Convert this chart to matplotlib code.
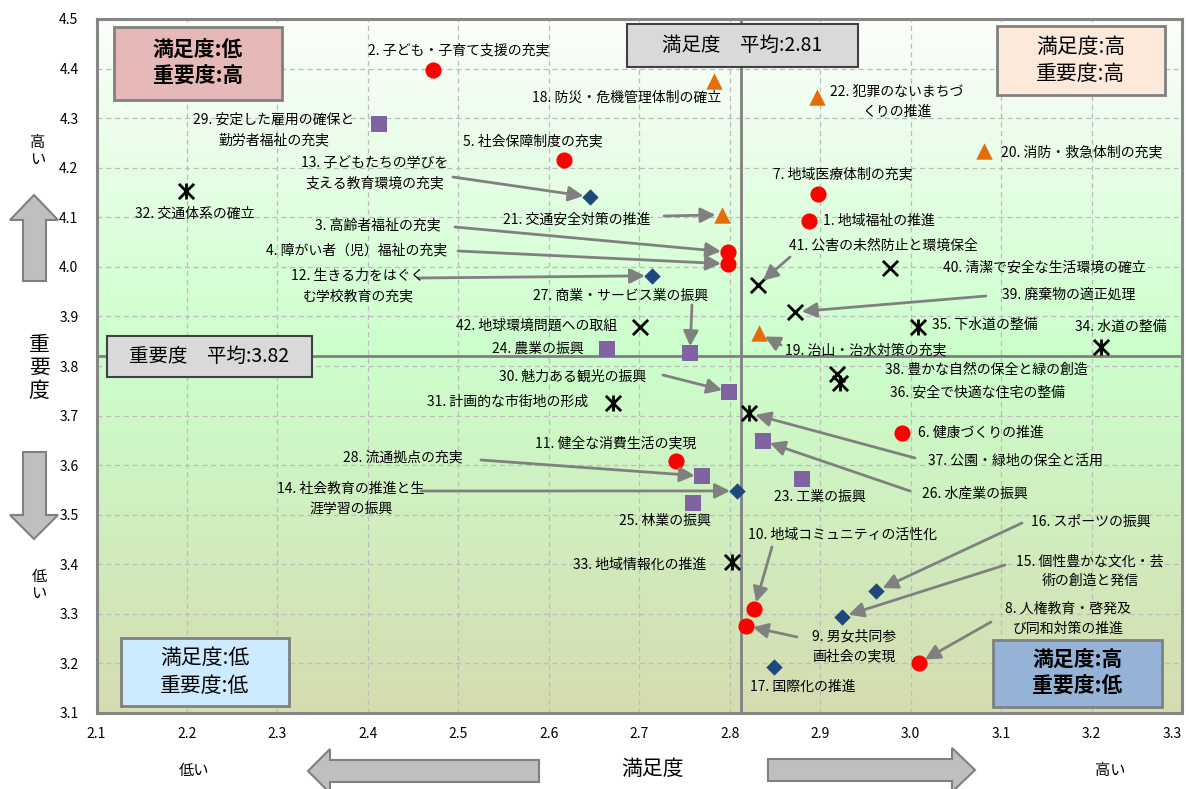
import numpy as np
import matplotlib
matplotlib.use('Agg')
import matplotlib.pyplot as plt
from matplotlib.patches import Rectangle, Polygon
from matplotlib.colors import LinearSegmentedColormap

plt.rcParams['font.family'] = ['Noto Sans CJK JP', 'DejaVu Sans']

# --- data: 満足度 (x) / 重要度 (y) ---
welfare_no = [1, 2, 3, 4, 5, 6, 7, 8, 9, 10, 11]
welfare_sat = [2.888, 2.472, 2.798, 2.798, 2.617, 2.990, 2.898, 3.009, 2.818, 2.827, 2.741]
welfare_imp = [4.093, 4.397, 4.030, 4.006, 4.216, 3.665, 4.147, 3.201, 3.276, 3.310, 3.608]

edu_no = [12, 13, 14, 15, 16, 17]
edu_sat = [2.714, 2.646, 2.808, 2.924, 2.962, 2.849]
edu_imp = [3.982, 4.141, 3.548, 3.294, 3.346, 3.193]

safety_no = [18, 19, 20, 21, 22]
safety_sat = [2.783, 2.832, 3.081, 2.792, 2.896]
safety_imp = [4.375, 3.866, 4.233, 4.105, 4.342]

industry_no = [23, 24, 25, 26, 27, 28, 29, 30]
industry_sat = [2.880, 2.664, 2.759, 2.837, 2.756, 2.769, 2.412, 2.799]
industry_imp = [3.572, 3.834, 3.524, 3.649, 3.826, 3.578, 4.288, 3.748]

town_no = [31, 32, 33, 34, 35, 36, 37]
town_sat = [2.671, 2.199, 2.802, 3.211, 3.008, 2.922, 2.821]
town_imp = [3.725, 4.153, 3.405, 3.838, 3.879, 3.766, 3.705]

env_no = [38, 39, 40, 41, 42]
env_sat = [2.919, 2.872, 2.977, 2.831, 2.701]
env_imp = [3.784, 3.909, 3.998, 3.963, 3.879]

mean_sat = 2.81
mean_imp = 3.82

names = {
    1: '1. 地域福祉の推進', 2: '2. 子ども・子育て支援の充実', 3: '3. 高齢者福祉の充実',
    4: '4. 障がい者（児）福祉の充実', 5: '5. 社会保障制度の充実', 6: '6. 健康づくりの推進',
    7: '7. 地域医療体制の充実', 8: '8. 人権教育・啓発及\nび同和対策の推進',
    9: '9. 男女共同参\n画社会の実現', 10: '10. 地域コミュニティの活性化',
    11: '11. 健全な消費生活の実現', 12: '12. 生きる力をはぐく\nむ学校教育の充実',
    13: '13. 子どもたちの学びを\n支える教育環境の充実', 14: '14. 社会教育の推進と生\n涯学習の振興',
    15: '15. 個性豊かな文化・芸\n術の創造と発信', 16: '16. スポーツの振興', 17: '17. 国際化の推進',
    18: '18. 防災・危機管理体制の確立', 19: '19. 治山・治水対策の充実',
    20: '20. 消防・救急体制の充実', 21: '21. 交通安全対策の推進',
    22: '22. 犯罪のないまちづ\nくりの推進', 23: '23. 工業の振興', 24: '24. 農業の振興',
    25: '25. 林業の振興', 26: '26. 水産業の振興', 27: '27. 商業・サービス業の振興',
    28: '28. 流通拠点の充実', 29: '29. 安定した雇用の確保と\n勤労者福祉の充実',
    30: '30. 魅力ある観光の振興', 31: '31. 計画的な市街地の形成', 32: '32. 交通体系の確立',
    33: '33. 地域情報化の推進', 34: '34. 水道の整備', 35: '35. 下水道の整備',
    36: '36. 安全で快適な住宅の整備', 37: '37. 公園・緑地の保全と活用',
    38: '38. 豊かな自然の保全と緑の創造', 39: '39. 廃棄物の適正処理',
    40: '40. 清潔で安全な生活環境の確立', 41: '41. 公害の未然防止と環境保全',
    42: '42. 地球環境問題への取組',
}

# label layout in image pixels: (x, y, ha, arrow start or None)
label_pos = {
    1: (823, 221, 'left', None), 2: (459, 50, 'center', None),
    3: (378, 225, 'center', (455, 227)), 4: (357, 250, 'center', (458, 251)),
    5: (533, 141, 'center', None), 6: (918, 433, 'left', None),
    7: (843, 174, 'center', None), 8: (1068, 619, 'center', (991, 622)),
    9: (854, 646, 'center', (797, 637)), 10: (843, 535, 'center', (772, 547)),
    11: (616, 443, 'center', None), 12: (358, 286, 'center', (418, 278)),
    13: (375, 173, 'center', (453, 177)), 14: (351, 499, 'center', (421, 491)),
    15: (1090, 571, 'center', (1005, 565)), 16: (1091, 522, 'center', (1022, 523)),
    17: (803, 687, 'center', None), 18: (627, 98, 'center', None),
    19: (866, 350, 'center', (781, 345)), 20: (1082, 152, 'center', None),
    21: (577, 220, 'center', (664, 216)), 22: (897, 102, 'center', None),
    23: (820, 497, 'center', None), 24: (538, 349, 'center', None),
    25: (665, 521, 'center', None), 26: (975, 494, 'center', (910, 491)),
    27: (621, 296, 'center', (692, 305)), 28: (403, 457, 'center', (481, 460)),
    29: (274, 130, 'center', None), 30: (573, 377, 'center', (663, 375)),
    31: (508, 402, 'center', None), 32: (195, 214, 'center', None),
    33: (640, 565, 'center', None), 34: (1121, 327, 'center', None),
    35: (932, 325, 'left', None), 36: (890, 393, 'left', None),
    37: (1015, 461, 'center', (915, 458)), 38: (885, 370, 'left', None),
    39: (1069, 295, 'center', (986, 296)), 40: (943, 268, 'left', None),
    41: (883, 246, 'center', (790, 257)), 42: (537, 326, 'center', None),
}

W, H = 1189, 789
fig = plt.figure(figsize=(W / 100, H / 100), dpi=100)
ax = fig.add_axes([96.5 / W, (H - 713) / H, (1182 - 96.5) / W, (713 - 19) / H])


def fp(x, y):
    # image pixel (from top-left) -> figure pixels
    return (x, H - y)


def ff(x, y):
    return (x / W, 1 - y / H)


# background gradient (white at top, green in the middle, olive at the bottom)
cmap = LinearSegmentedColormap.from_list('bg', [(0, '#fcfdfa'), (0.48, '#ccffcc'), (1, '#d5dcb0')])
grad = np.linspace(0, 1, 256).reshape(-1, 1)
ax.imshow(grad, extent=[2.1, 3.3, 3.1, 4.5], origin='upper', aspect='auto', cmap=cmap, zorder=0)

ax.set_xlim(2.1, 3.3)
ax.set_ylim(3.1, 4.5)
ax.set_xticks(np.round(np.arange(2.1, 3.31, 0.1), 1))
ax.set_yticks(np.round(np.arange(3.1, 4.51, 0.1), 1))
ax.xaxis.set_major_formatter(matplotlib.ticker.FormatStrFormatter('%.1f'))
ax.yaxis.set_major_formatter(matplotlib.ticker.FormatStrFormatter('%.1f'))
ax.tick_params(length=0, labelsize=10, pad=10)
ax.tick_params(axis='y', pad=13)
ax.get_xticklabels()[-1].set_horizontalalignment('right')
ax.grid(True, linestyle=(0, (4, 3)), color='#bcbcbc', lw=0.9)
ax.set_axisbelow(True)
for s in ax.spines.values():
    s.set_color('#868686')
    s.set_linewidth(2.2)

ax.axvline(mean_sat + 0.003, color='#808080', lw=2, zorder=2)
ax.axhline(mean_imp, color='#808080', lw=2, zorder=2)

# markers
ax.scatter(welfare_sat, welfare_imp, s=135, marker='o', color='#ff0000', zorder=4, lw=0)
ax.scatter(edu_sat, edu_imp, s=70, marker='D', color='#1f497d', zorder=4, lw=0)
ax.scatter(safety_sat, safety_imp, s=140, marker='^', color='#e46c0a', zorder=4, lw=0)
ax.scatter(industry_sat, industry_imp, s=125, marker='s', color='#8064a2', zorder=4, lw=0)
ax.scatter(town_sat, town_imp, s=120, marker='x', color='black', zorder=4, lw=2)
ax.scatter(town_sat, town_imp, s=120, marker='|', color='black', zorder=4, lw=2)
ax.scatter(env_sat, env_imp, s=120, marker='x', color='black', zorder=4, lw=2)

# labels and arrows
all_pts = {}
for nos, xs, ys in [(welfare_no, welfare_sat, welfare_imp), (edu_no, edu_sat, edu_imp),
                    (safety_no, safety_sat, safety_imp), (industry_no, industry_sat, industry_imp),
                    (town_no, town_sat, town_imp), (env_no, env_sat, env_imp)]:
    for n, x, y in zip(nos, xs, ys):
        all_pts[n] = (x, y)

for n, (x, y) in all_pts.items():
    lx, ly, ha, arr = label_pos[n]
    ax.annotate(names[n], xy=(x, y), xytext=fp(lx, ly), textcoords='figure pixels',
                ha=ha, va='center', fontsize=10, multialignment='center', linespacing=1.55,
                zorder=6)
    if arr is not None:
        ax.annotate('', xy=(x, y), xytext=fp(*arr), textcoords='figure pixels',
                    arrowprops=dict(arrowstyle='-|>,head_length=0.5,head_width=0.25',
                                    color='#808080', lw=2,
                                    shrinkA=0, shrinkB=5, mutation_scale=18), zorder=5)


def box(l, t, r, b, fc, text, bold=False, size=15, ec='#808080', lw=2, ls=1.3):
    x0, y1 = ff(l, b)
    fig.add_artist(Rectangle((x0, y1), (r - l) / W, (b - t) / H, transform=fig.transFigure,
                             fc=fc, ec=ec, lw=lw, zorder=8))
    cx, cy = ff((l + r) / 2, (t + b) / 2)
    fig.text(cx, cy, text, ha='center', va='center', fontsize=size,
             fontweight='bold' if bold else 'normal', linespacing=ls, zorder=9)


box(114, 27, 282, 100, '#e6b9b8', '満足度:低\n重要度:高', bold=True)
box(997, 26, 1165, 95, '#fde9d9', '満足度:高\n重要度:高')
box(121, 638, 289, 706, '#cdeaff', '満足度:低\n重要度:低')
box(993, 640, 1162, 707, '#95b3d7', '満足度:高\n重要度:低', bold=True)
box(627, 24, 858, 67, '#d9d9d9', '満足度　平均:%.2f' % mean_sat, size=14, ec='#404040', lw=1.5)
box(107, 336, 312, 377, '#d9d9d9', '重要度　平均:%.2f' % mean_imp, size=14, ec='#404040', lw=1.5)

# block arrows
arrow_fc, arrow_ec = '#bfbfbf', '#808080'
shapes = [
    [(34, 195), (58, 220), (46, 220), (46, 281), (23, 281), (23, 220), (10, 220)],
    [(34, 539), (58, 515), (46, 515), (46, 452), (23, 452), (23, 515), (10, 515)],
    [(308, 771), (330, 749), (330, 760), (539, 760), (539, 782), (330, 782), (330, 793)],
    [(975, 770), (952, 748), (952, 759), (768, 759), (768, 781), (952, 781), (952, 792)],
]
for pts in shapes:
    fig.add_artist(Polygon([ff(*p) for p in pts], closed=True, transform=fig.transFigure,
                           fc=arrow_fc, ec=arrow_ec, lw=1.5))

fig.text(*ff(38, 151), '高\nい', ha='center', va='center', fontsize=11, linespacing=1.0)
fig.text(*ff(39, 368), '重\n要\n度', ha='center', va='center', fontsize=15, linespacing=1.05)
fig.text(*ff(39, 585), '低\nい', ha='center', va='center', fontsize=11, linespacing=1.0)
fig.text(*ff(194, 770), '低い', ha='center', va='center', fontsize=11)
fig.text(*ff(653, 769), '満足度', ha='center', va='center', fontsize=15)
fig.text(*ff(1110, 770), '高い', ha='center', va='center', fontsize=11)

fig.savefig('out.png', dpi=100)
